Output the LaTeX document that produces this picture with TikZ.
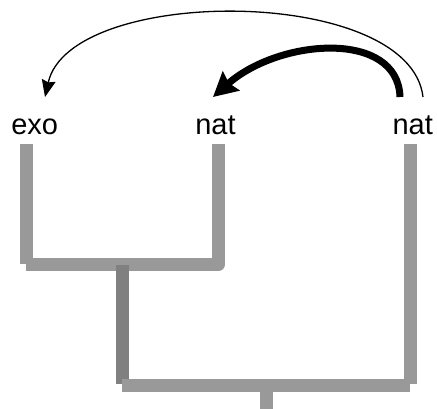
\documentclass[tikz,border=0pt]{standalone}
\usepackage{fontspec}
\setmainfont{Liberation Sans}
\usetikzlibrary{arrows.meta}
\definecolor{bargray}{RGB}{153,153,153}
\definecolor{stemgray}{RGB}{128,128,128}
\tikzset{
  lbl/.style={anchor=base,inner sep=0pt,font=\fontsize{29}{33}\selectfont},
  bar/.style={draw=bargray,line width=13pt,line cap=butt},
  stem/.style={draw=stemgray,line width=13pt,line cap=butt},
  thinarrow/.style={draw=black,line width=1.3pt,-{Stealth[length=17pt,width=14pt,inset=2pt]}},
  thickarrow/.style={draw=black,line width=7pt,-{Stealth[length=24pt,width=25pt,inset=3pt]}}
}
\begin{document}
\begin{tikzpicture}[x=1pt,y=-1pt]
\useasboundingbox (0,0) rectangle (437,409);
% labels
\node[lbl] (exo) at (34.7,134.5) {exo};
\node[lbl] (natM) at (215.5,134.5) {nat};
\node[lbl] (natR) at (412.7,134.5) {nat};
% tree
\draw[bar] (26.5,144) -- (26.5,264);
\draw[bar,line join=round] (26,264.5) -- (218.5,264.5) -- (218.5,144);
\draw[stem] (122.5,265) -- (122.5,384);
\draw[bar] (410.5,144) -- (410.5,384);
\draw[bar] (122,385) -- (410,385);
\draw[bar] (266.5,392) -- (266.5,409);
% arrows
\coordinate (t0) at (423,97);
\coordinate (t1) at (45,97);
\coordinate (k0) at (400,97);
\coordinate (k1) at (213,97);
\draw[thinarrow] (t0) .. controls (410,-15) and (70,-15) .. (t1);
\draw[thickarrow] (k0) .. controls (398,30) and (280,38) .. (k1);
\end{tikzpicture}
\end{document}
